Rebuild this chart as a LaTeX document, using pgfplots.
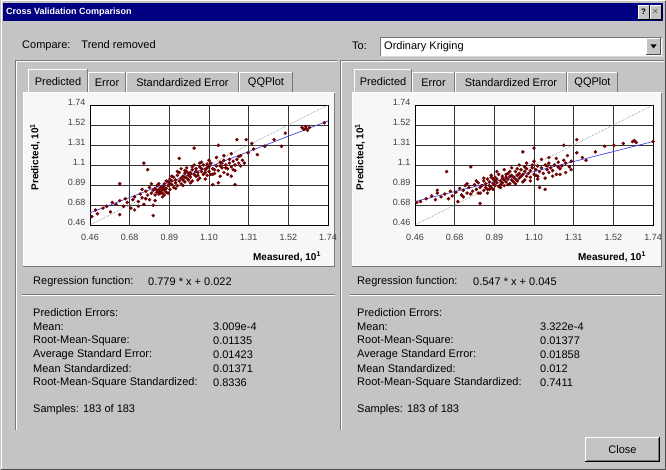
\documentclass[border=0pt]{standalone}
\usepackage{fontspec}
\setmainfont{Liberation Sans}
\usepackage{pgfplots}
\pgfplotsset{compat=1.18}

\definecolor{dlg}{RGB}{196,196,196}
\definecolor{page}{RGB}{247,247,247}
\definecolor{titlebar}{RGB}{0,0,128}
\definecolor{ptred}{RGB}{128,0,0}
\definecolor{ptedge}{RGB}{95,0,0}
\definecolor{regblue}{RGB}{70,70,225}
\definecolor{edge}{RGB}{120,120,120}

\newcommand{\ui}{\fontsize{11}{13}\selectfont}
\newcommand{\tk}{\fontsize{9}{10}\selectfont}

% one tab of a tab strip: left x, right x, top y, caption
\newcommand{\tabcell}[4]{%
  \fill[dlg] (#1,378) rectangle (#2,#3);
  \draw[white, line width=1pt] (#1+0.5,378) -- (#1+0.5,#3-0.5) -- (#2-1,#3-0.5);
  \draw[edge, line width=1pt] (#2-0.5,#3-0.5) -- (#2-0.5,378);
  \node[font=\ui, inner sep=0pt] at ({(#1+#2)/2},{(378+#3)/2-1}) {#4};
}

\pgfplotsset{
  cvplot/.style={
    scale only axis, width=238pt, height=120pt,
    xmin=0.46, xmax=1.74, ymin=0.46, ymax=1.74,
    xtick={0.46,0.67333,0.88667,1.1,1.31333,1.52667,1.74},
    ytick={0.46,0.67333,0.88667,1.1,1.31333,1.52667,1.74},
    xticklabels={0.46,0.68,0.89,1.10,1.31,1.52,1.74},
    yticklabels={0.46,0.68,0.89,1.1,1.31,1.52,1.74},
    grid=major,
    major grid style={black!80, line width=0.6pt},
    axis line style={black, line width=0.9pt},
    tick style={draw=none},
    axis background/.style={fill=white},
    ticklabel style={font=\tk, text=black!75},
    xticklabel style={yshift=-6pt},
    yticklabel style={yshift=3pt, xshift=-1pt},
    xlabel={Measured, 10\textsuperscript{1}},
    ylabel={Predicted, 10\textsuperscript{1}},
    label style={font=\fontsize{10}{12}\selectfont\bfseries},
    xlabel style={at={(axis description cs:0.985,-0.267)}, anchor=east},
    ylabel style={at={(axis description cs:-0.231,0.567)}, anchor=center},
  },
  cvpoints/.style={only marks, mark=*, mark size=1.6pt,
    mark options={draw=ptedge, fill=ptred, line width=0.3pt}},
}

\begin{document}
\begin{tikzpicture}[x=1pt, y=1pt]
% dialog body
\fill[dlg] (0,0) rectangle (666,470);
\draw[white, line width=1pt] (1,1) -- (1,469) -- (665,469);
\draw[black!70, line width=1pt] (1,0.5) -- (665.5,0.5) -- (665.5,469);

% title bar
\fill[titlebar] (3,449) rectangle (663,467);
\node[anchor=west, text=white, font=\fontsize{9}{11}\selectfont\bfseries, inner sep=0pt] at (6,458) {Cross Validation Comparison};
\foreach \bx/\bl in {638/?, 650/$\times$} {
  \fill[dlg] (\bx,451) rectangle (\bx+11,465);
  \draw[white] (\bx,451) -- (\bx,465) -- (\bx+11,465);
  \draw[black] (\bx,451) -- (\bx+11,451) -- (\bx+11,465);
  \node[font=\fontsize{8}{9}\selectfont\bfseries, inner sep=0pt] at (\bx+5.5,458) {\bl};
}

% header row
\node[anchor=west, font=\ui, inner sep=0pt] at (22,424) {Compare:\quad Trend removed};
\node[anchor=west, font=\ui, inner sep=0pt] at (352,424) {To:};
\fill[white] (380,414) rectangle (662,433);
\draw[edge] (380,414) -- (380,433) -- (662,433);
\draw[black!15] (380,414) -- (662,414) -- (662,433);
\node[anchor=west, font=\ui, inner sep=0pt] at (384,423.5) {Ordinary Kriging};
\fill[dlg] (646,415.5) rectangle (660.5,431.5);
\draw[white] (646,415.5) -- (646,431.5) -- (660.5,431.5);
\draw[black!70] (646,415.5) -- (660.5,415.5) -- (660.5,431.5);
\fill[black] (650.5,425.5) -- (656.5,425.5) -- (653.5,421.5) -- cycle;

% panes
\foreach \xa/\xb in {15/337, 340/664} {
  \draw[edge] (\xa,40) -- (\xa,410) -- (\xb,410);
  \draw[white] (\xa+1,40) -- (\xa+1,409) -- (\xb,409);
}

% tab pages
\foreach \xa/\xb in {23/335, 352/662} {
  \fill[page] (\xa,203) rectangle (\xb,378);
  \draw[white, line width=1pt] (\xa+0.5,203) -- (\xa+0.5,378);
  \draw[edge, line width=1pt] (\xa,203.5) -- (\xb-0.5,203.5) -- (\xb-0.5,378);
  \draw[white, line width=1pt] (\xa,377.5) -- (\xb,377.5);
}

% tab strips
\tabcell{88}{126}{398}{Error}
\tabcell{126}{239}{398}{Standardized Error}
\tabcell{239}{293}{398}{QQPlot}
\tabcell{28}{88}{401}{Predicted}
\tabcell{412}{455}{398}{Error}
\tabcell{455}{567}{398}{Standardized Error}
\tabcell{567}{618}{398}{QQPlot}
\tabcell{354}{412}{401}{Predicted}

% left plot: Trend removed
\begin{axis}[cvplot, at={(90pt,245pt)}, anchor=south west]
\addplot[gray, densely dotted, line width=0.6pt] coordinates {(0.46,0.46) (1.74,1.74)};
\addplot[regblue, line width=0.7pt] coordinates {(0.46,0.59) (1.74,1.57)};
\addplot[cvpoints] table {
x y
0.47 0.55
0.49 0.62
0.50 0.58
0.53 0.64
0.55 0.66
0.57 0.60
0.58 0.70
0.60 0.68
0.62 0.57
0.62 0.72
0.62 0.90
0.64 0.66
0.65 0.74
0.66 0.70
0.68 0.64
0.69 0.73
0.70 0.62
0.70 0.76
0.72 0.71
0.72 0.66
0.73 0.79
0.74 0.75
0.74 0.84
0.75 0.68
0.75 1.12
0.76 0.82
0.76 0.74
0.77 0.78
0.77 1.05
0.78 0.73
0.78 0.86
0.79 0.80
0.79 0.90
0.80 0.56
0.80 0.67
0.80 0.83
0.81 0.78
0.81 0.85
0.81 0.72
0.82 0.88
0.82 0.81
0.82 0.83
0.83 0.84
0.83 0.79
0.83 0.82
0.83 0.90
0.84 0.86
0.84 0.82
0.84 0.80
0.85 0.80
0.85 0.87
0.85 0.84
0.85 0.76
0.86 0.83
0.86 0.90
0.86 0.86
0.86 0.78
0.87 0.85
0.87 0.81
0.87 0.93
0.88 0.88
0.88 0.92
0.88 0.80
0.89 0.84
0.89 0.95
0.89 0.90
0.90 0.89
0.90 0.93
0.90 0.98
0.91 0.86
0.91 0.97
0.92 0.91
0.92 0.94
0.92 0.85
0.93 0.88
0.93 0.99
0.93 1.03
0.94 0.93
0.94 1.17
0.94 1.02
0.95 0.96
0.95 0.90
0.95 1.06
0.96 0.98
0.96 0.94
0.96 0.88
0.97 1.01
0.97 0.92
0.97 0.97
0.97 1.04
0.98 0.96
0.98 1.03
0.98 1.07
0.99 0.99
0.99 0.94
0.99 1.01
1.00 1.02
1.00 0.97
1.00 1.00
1.00 0.91
1.01 1.05
1.01 0.93
1.01 1.08
1.02 1.00
1.02 1.28
1.02 1.10
1.03 0.98
1.03 1.06
1.03 1.03
1.04 1.02
1.04 0.99
1.04 0.94
1.05 0.96
1.05 1.08
1.05 1.12
1.06 1.03
1.06 1.06
1.06 1.13
1.07 1.00
1.07 1.10
1.08 1.05
1.08 1.02
1.08 0.95
1.09 0.99
1.09 1.07
1.09 1.11
1.10 1.03
1.10 1.08
1.10 1.15
1.11 1.12
1.11 1.00
1.12 0.89
1.12 1.06
1.12 1.00
1.13 1.01
1.13 1.05
1.14 1.09
1.14 1.18
1.15 1.04
1.15 0.91
1.15 1.31
1.16 1.13
1.16 1.09
1.16 0.98
1.17 1.07
1.17 1.12
1.18 1.02
1.18 1.15
1.18 1.20
1.19 1.10
1.19 1.07
1.20 1.06
1.20 1.00
1.21 1.12
1.21 1.16
1.22 0.98
1.22 1.08
1.22 1.22
1.23 1.14
1.23 1.05
1.24 0.89
1.24 1.10
1.24 1.04
1.25 1.37
1.25 1.16
1.26 1.12
1.26 1.19
1.27 1.09
1.27 1.20
1.28 1.15
1.29 1.12
1.30 1.37
1.31 1.23
1.33 1.33
1.34 1.27
1.36 1.21
1.40 1.30
1.45 1.37
1.49 1.30
1.51 1.44
1.60 1.50
1.61 1.48
1.62 1.51
1.62 1.49
1.63 1.47
1.64 1.50
1.72 1.55
};
\end{axis}

% right plot: Ordinary Kriging
\begin{axis}[cvplot, at={(415pt,245pt)}, anchor=south west]
\addplot[gray, densely dotted, line width=0.6pt] coordinates {(0.46,0.46) (1.74,1.74)};
\addplot[regblue, line width=0.7pt] coordinates {(0.46,0.71) (1.74,1.35)};
\addplot[cvpoints] table {
x y
0.47 0.70
0.49 0.71
0.52 0.74
0.55 0.77
0.57 0.73
0.58 0.80
0.58 0.83
0.60 0.76
0.62 0.79
0.63 1.03
0.64 0.74
0.65 0.82
0.66 0.77
0.68 0.81
0.69 0.71
0.70 0.85
0.71 0.78
0.72 0.83
0.72 0.76
0.73 0.88
0.74 0.80
0.74 0.90
0.75 0.86
0.76 1.08
0.76 0.79
0.77 0.82
0.78 0.89
0.79 0.84
0.79 0.93
0.80 0.80
0.80 0.91
0.81 0.69
0.81 0.86
0.81 0.80
0.82 0.88
0.83 0.83
0.83 0.93
0.83 0.96
0.84 0.86
0.84 0.90
0.85 0.84
0.85 0.95
0.85 0.80
0.86 0.88
0.86 0.92
0.86 0.84
0.87 0.86
0.87 0.97
0.87 0.99
0.88 0.90
0.88 0.84
0.88 0.95
0.89 0.93
0.89 0.88
0.89 0.97
0.90 0.91
0.90 0.95
0.90 1.03
0.91 0.87
0.91 1.00
0.92 0.93
0.92 0.89
0.92 0.86
0.93 0.96
0.93 0.91
0.93 0.98
0.94 0.94
0.94 0.88
0.94 1.05
0.95 0.97
0.95 0.92
0.95 1.00
0.96 0.95
0.96 1.01
0.96 0.89
0.97 0.90
0.97 0.98
0.97 1.03
0.98 0.94
0.98 0.99
0.98 1.07
0.99 0.92
0.99 0.97
1.00 1.03
1.00 0.95
1.00 0.90
1.01 0.99
1.01 0.93
1.01 1.06
1.02 1.01
1.02 0.96
1.02 1.10
1.03 1.05
1.03 0.98
1.04 1.24
1.04 1.00
1.04 0.92
1.05 0.94
1.05 1.03
1.05 1.08
1.06 0.98
1.06 1.06
1.06 1.12
1.07 1.01
1.08 1.04
1.08 0.97
1.08 0.93
1.09 1.07
1.09 1.10
1.10 1.28
1.10 1.00
1.10 1.14
1.11 1.05
1.11 0.99
1.12 1.09
1.12 0.98
1.12 0.95
1.13 0.86
1.13 1.03
1.14 1.07
1.14 1.16
1.15 1.01
1.16 0.84
1.16 1.10
1.16 0.96
1.17 1.05
1.17 1.09
1.18 1.02
1.18 1.12
1.18 1.18
1.19 1.07
1.20 1.04
1.20 0.98
1.21 1.10
1.22 1.00
1.22 1.17
1.23 1.13
1.23 1.08
1.24 1.06
1.24 1.00
1.25 1.09
1.26 1.31
1.26 1.15
1.27 1.02
1.27 1.12
1.28 1.20
1.29 1.08
1.30 1.14
1.30 1.05
1.33 1.37
1.33 1.23
1.36 1.18
1.38 1.15
1.43 1.24
1.48 1.30
1.53 1.31
1.58 1.33
1.63 1.35
1.64 1.36
1.65 1.34
1.74 1.35
};
\end{axis}

% statistics below the plots
\foreach \xa/\xb in {22/335, 350/662} {
  \draw[edge, line width=1pt] (\xa,175.5) -- (\xb,175.5);
  \draw[white, line width=1pt] (\xa,174.5) -- (\xb,174.5);
}
\begin{scope}[every node/.style={anchor=west, font=\ui, inner sep=0pt}]
\node at (33,188) {Regression function:};
\node at (148,188) {0.779 * x + 0.022};
\node at (33,157) {Prediction Errors:};
\node at (33,143) {Mean:};
\node at (33,129) {Root-Mean-Square:};
\node at (33,115) {Average Standard Error:};
\node at (33,101) {Mean Standardized:};
\node at (33,87)  {Root-Mean-Square Standardized:};
\node at (213,143) {3.009e-4};
\node at (213,129) {0.01135};
\node at (213,115) {0.01423};
\node at (213,101) {0.01371};
\node at (213,87)  {0.8336};
\node at (33,60) {Samples:  183 of 183};

\node at (357,188) {Regression function:};
\node at (473,188) {0.547 * x + 0.045};
\node at (357,157) {Prediction Errors:};
\node at (357,143) {Mean:};
\node at (357,129) {Root-Mean-Square:};
\node at (357,115) {Average Standard Error:};
\node at (357,101) {Mean Standardized:};
\node at (357,87)  {Root-Mean-Square Standardized:};
\node at (540,143) {3.322e-4};
\node at (540,129) {0.01377};
\node at (540,115) {0.01858};
\node at (540,101) {0.012};
\node at (540,87)  {0.7411};
\node at (357,60) {Samples:  183 of 183};
\end{scope}

% Close button
\fill[dlg] (585,8) rectangle (660,33);
\draw[white, line width=1pt] (585.5,8) -- (585.5,32.5) -- (660,32.5);
\draw[black, line width=1pt] (585,8.5) -- (659.5,8.5) -- (659.5,33);
\draw[edge] (586.5,10) -- (658,10) -- (658,32);
\node[font=\ui, inner sep=0pt] at (622.5,20.5) {Close};
\end{tikzpicture}
\end{document}
